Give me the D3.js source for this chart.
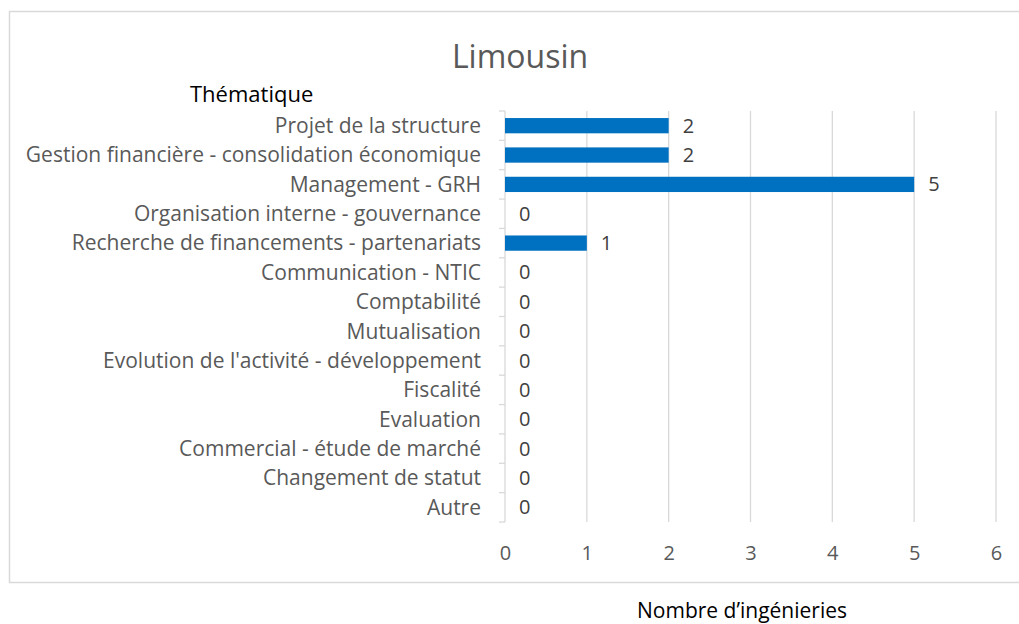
<!DOCTYPE html>
<html>
<head>
<meta charset="utf-8">
<script src="https://cdn.jsdelivr.net/npm/d3@7"></script>
<style>
  body { margin: 0; background: #fff; }
  text { font-family: "Open Sans", sans-serif; }
</style>
</head>
<body>
<svg id="chart" width="1019" height="624"></svg>
<script>
const categories = [
    "Projet de la structure",
    "Gestion financière - consolidation économique",
    "Management - GRH",
    "Organisation interne - gouvernance",
    "Recherche de financements - partenariats",
    "Communication - NTIC",
    "Comptabilité",
    "Mutualisation",
    "Evolution de l'activité - développement",
    "Fiscalité",
    "Evaluation",
    "Commercial - étude de marché",
    "Changement de statut",
    "Autre"];

const values = [2, 2, 5, 0, 1, 0, 0, 0, 0, 0, 0, 0, 0, 0];

const xTicks = [0, 1, 2, 3, 4, 5, 6];

const data = categories.map((c, i) => ({group: c, value: values[i]}));

let svg = d3.select("#chart");

// outer chart border (open on the right)
svg.append("path")
    .attr("d", "M1019,11.5 H9.5 V582.5 H1019")
    .attr("fill", "none")
    .attr("stroke", "#d9d9d9")
    .attr("stroke-width", 1.5);

let margin = {top: 111, left: 505};
let width = 996 - 505;
let height = 522 - 111;

let g = svg.append("g")
    .attr("transform", `translate(${margin.left}, ${margin.top})`);

let x = d3.scaleLinear()
    .domain([0, 6])
    .range([0, width]);

let y = d3.scaleBand()
    .domain(categories)
    .range([0, height])
    .paddingInner(0.48)
    .paddingOuter(0.24);

// vertical gridlines
g.selectAll("line.grid")
    .data(xTicks.filter(d => d > 0))
    .join("line")
    .attr("class", "grid")
    .attr("x1", d => x(d))
    .attr("x2", d => x(d))
    .attr("y1", 0)
    .attr("y2", height)
    .style("stroke", "#d9d9d9")
    .style("stroke-width", "1.3px");

// bottom tick labels (no axis line)
let xAxis = g.append("g")
    .attr("transform", `translate(0,${height})`)
    .call(d3.axisBottom(x).tickValues(xTicks).tickFormat(d3.format("d")).tickSize(0).tickPadding(24));
xAxis.select(".domain").remove();
xAxis.selectAll("text")
    .style("font-family", "'Open Sans', sans-serif")
    .style("font-size", "20px")
    .style("fill", "#595959");

// left axis with ticks between categories
g.append("line")
    .attr("x1", 0).attr("x2", 0)
    .attr("y1", 0).attr("y2", height)
    .style("stroke", "#d9d9d9")
    .style("stroke-width", "1.3px");

let step = height / categories.length;
g.selectAll("line.ytick")
    .data(d3.range(categories.length + 1))
    .join("line")
    .attr("class", "ytick")
    .attr("x1", -6).attr("x2", 0)
    .attr("y1", d => d * step)
    .attr("y2", d => d * step)
    .style("stroke", "#d9d9d9")
    .style("stroke-width", "1.3px");

g.selectAll("text.cat")
    .data(categories)
    .join("text")
    .attr("class", "cat")
    .attr("x", -24)
    .attr("y", d => y(d) + y.bandwidth() / 2)
    .attr("dy", "0.35em")
    .attr("text-anchor", "end")
    .style("font-size", "21px")
    .style("fill", "#595959")
    .text(d => d);

// bars
g.selectAll("rect")
    .data(data)
    .join("rect")
    .attr("x", 0)
    .attr("y", d => y(d.group))
    .attr("width", d => x(d.value))
    .attr("height", y.bandwidth())
    .attr("fill", "#0070c0");

// data labels
g.selectAll("text.val")
    .data(data)
    .join("text")
    .attr("class", "val")
    .attr("x", d => x(d.value) + 14)
    .attr("y", d => y(d.group) + y.bandwidth() / 2)
    .attr("dy", "0.35em")
    .style("font-size", "20px")
    .style("fill", "#404040")
    .text(d => d.value);

// titles
svg.append("text")
    .attr("x", 520)
    .attr("y", 68)
    .attr("text-anchor", "middle")
    .style("font-size", "32px")
    .style("fill", "#595959")
    .text("Limousin");

svg.append("text")
    .attr("x", 190)
    .attr("y", 102)
    .style("font-size", "22px")
    .style("fill", "#000")
    .text("Thématique");

svg.append("text")
    .attr("x", 637)
    .attr("y", 618)
    .style("font-size", "21px")
    .style("fill", "#000")
    .text("Nombre d’ingénieries");
</script>
</body>
</html>
